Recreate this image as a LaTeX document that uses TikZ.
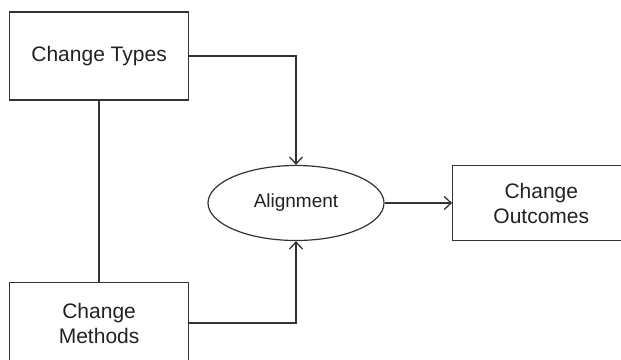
\documentclass[tikz,border=0pt]{standalone}
\usepackage{fontspec}
\setmainfont{Liberation Sans}
\usetikzlibrary{arrows.meta,shapes.geometric}
\definecolor{ln}{HTML}{333333}
\definecolor{tx}{HTML}{222222}
\tikzset{
  box/.style={draw=ln, line width=1.3pt, rectangle, inner sep=0pt, align=center, text=tx,
    font=\fontsize{21}{25}\selectfont},
  ell/.style={draw=ln, line width=1.2pt, ellipse, inner sep=0pt, text=tx,
    font=\fontsize{19}{23}\selectfont},
  conn/.style={draw=ln, line width=1.3pt},
  arr/.style={conn, -{Straight Barb[length=7pt,width=13pt,line width=1.3pt]}}
}
\begin{document}
\begin{tikzpicture}[x=1pt,y=-1pt]
\useasboundingbox (0,0) rectangle (621,359);
\fill[white] (0,0) rectangle (621,359);
\node[box, minimum width=179pt, minimum height=88pt] (types) at (99.1,56) {Change Types};
\node[box, minimum width=179pt, minimum height=81pt] (methods) at (99.1,323) {Change\\Methods};
\node[ell, minimum width=176pt, minimum height=75pt] (align) at (296,203) {Alignment};
\node[box, minimum width=177pt, minimum height=75pt] (outcomes) at (541.3,203) {Change\\Outcomes};
\draw[conn] (types.south) -- (methods.north);
\draw[arr] (types.east) -| (align.north);
\draw[arr] (methods.east) -| (align.south);
\draw[arr] (align.east) -- (outcomes.west);
\end{tikzpicture}
\end{document}
